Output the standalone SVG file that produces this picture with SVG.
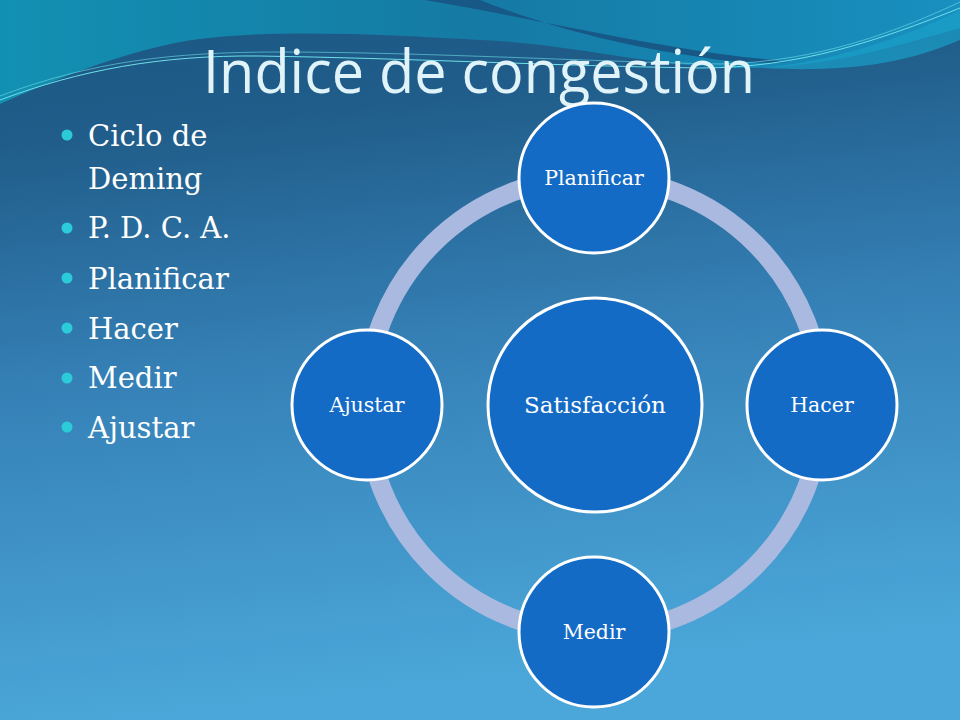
<svg xmlns="http://www.w3.org/2000/svg" width="960" height="720" viewBox="0 0 960 720">
<defs>
<linearGradient id="bg" x1="0" y1="0" x2="0.15" y2="1">
<stop offset="0" stop-color="#1a5783"/>
<stop offset="0.2" stop-color="#205d8a"/>
<stop offset="0.55" stop-color="#3682b8"/>
<stop offset="1" stop-color="#4ba7d9"/>
</linearGradient>
<linearGradient id="teal" x1="0" y1="0" x2="1" y2="0">
<stop offset="0" stop-color="#1290b2"/>
<stop offset="0.5" stop-color="#157aa4"/>
<stop offset="1" stop-color="#1890c0"/>
</linearGradient>
<style>
.ring{fill:none;stroke:#aab9df;stroke-width:19}
.node{fill:#136bc6;stroke:#ffffff;stroke-width:3}
.lbl{font-family:"DejaVu Serif","Liberation Serif",serif;fill:#ffffff;text-anchor:middle;font-size:20.5px}
.big{font-size:23px}
.bul{font-family:"DejaVu Serif","Liberation Serif",serif;fill:#ffffff;font-size:29px}
.dot{fill:#2ccbd9}
.streak{fill:none;stroke:#6fe0e8;stroke-width:1}
</style>
</defs>
<rect width="960" height="720" fill="url(#bg)"/>
<path d="M0,0 H960 V28 C900,45 830,66 760,68 C660,70 580,44 480,40 C380,34 260,28 180,42 C110,56 50,82 0,104 Z" fill="url(#teal)"/>
<path d="M425,0 C520,16 620,40 720,54 C750,58 775,60 790,62 C760,64 730,62 700,57 C620,46 540,24 480,0 Z" fill="#175886"/>
<path d="M760,68 C830,62 900,40 960,10 V40 C900,66 840,72 760,68 Z" fill="#1aa0c8" opacity="0.7"/>
<path class="streak" d="M0,100 C80,70 160,55 260,56 C400,58 560,66 700,68 C800,68 880,40 960,8"/>
<path class="streak" d="M0,96 C90,62 170,52 280,52 C420,52 600,62 720,64 C820,62 900,30 960,2" opacity="0.6"/>
<text x="203" y="93" font-family="'Open Sans','Noto Sans',sans-serif" font-size="60" fill="#dff3f8" textLength="552" lengthAdjust="spacingAndGlyphs">Indice de congestión</text>
<g id="bullets">
<circle class="dot" cx="67" cy="135" r="5.5"/>
<text class="bul" x="88" y="146">Ciclo de</text>
<text class="bul" x="88" y="189">Deming</text>
<circle class="dot" cx="67" cy="228" r="5.5"/>
<text class="bul" x="88" y="238">P. D. C. A.</text>
<circle class="dot" cx="67" cy="278" r="5.5"/>
<text class="bul" x="88" y="289">Planificar</text>
<circle class="dot" cx="67" cy="328" r="5.5"/>
<text class="bul" x="88" y="339">Hacer</text>
<circle class="dot" cx="67" cy="378" r="5.5"/>
<text class="bul" x="88" y="388">Medir</text>
<circle class="dot" cx="67" cy="427" r="5.5"/>
<text class="bul" x="88" y="438">Ajustar</text>
</g>
<g id="connectors">
<circle class="ring" cx="594" cy="405" r="228"/>
</g>
<g id="node-satisfaccion">
<circle class="node" cx="595" cy="405" r="107"/>
<text class="lbl big" x="595" y="413">Satisfacción</text>
</g>
<g id="node-planificar">
<circle class="node" cx="594" cy="178" r="75"/>
<text class="lbl" x="594" y="185">Planificar</text>
</g>
<g id="node-hacer">
<circle class="node" cx="822" cy="405" r="75"/>
<text class="lbl" x="822" y="412">Hacer</text>
</g>
<g id="node-medir">
<circle class="node" cx="594" cy="632" r="75"/>
<text class="lbl" x="594" y="639">Medir</text>
</g>
<g id="node-ajustar">
<circle class="node" cx="367" cy="405" r="75"/>
<text class="lbl" x="367" y="412">Ajustar</text>
</g>
</svg>
